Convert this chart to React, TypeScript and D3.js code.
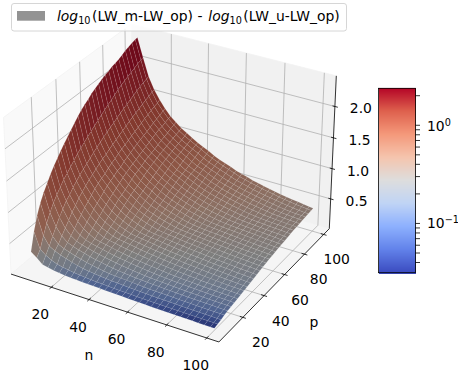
import * as d3 from "d3";

const nValues = [5, 8, 11, 14, 17, 20, 23, 26, 29, 32, 35, 38, 41, 44, 47, 50, 53, 56, 59, 62, 65, 68, 71, 74, 77, 80, 83, 86, 89, 92, 95, 98, 100];
const pValues = nValues;
const gridTicks = [20, 40, 60, 80, 100];
const zTicks = [0.5, 1, 1.5, 2];
const cbarMinor = [2, 0.9, 0.8, 0.7, 0.6, 0.5, 0.4, 0.3, 0.2, 0.09, 0.08, 0.07, 0.06, 0.05, 0.04];
const cbarMajor = [1, 0.1];
const coolwarmStops = ["#3b4cc0", "#6282ea", "#8db0fe", "#c0d4f5", "#dddddd", "#f5c4ad", "#f4987a", "#de604d", "#b40426"];

// z * 1000, one row per p, one column per n. Edges, inside estimated by eye from the colours.
const zRows = [
  [320, 250, 170, 150, 130, 115, 105, 100, 95, 90, 87, 83, 80, 75, 72, 68, 65, 62, 59, 56, 53, 50, 48, 46, 44, 42, 40, 38, 37, 35, 34, 33, 32],
  [600, 340, 270, 215, 180, 160, 145, 130, 120, 110, 102, 96, 92, 86, 82, 78, 74, 72, 68, 66, 63, 61, 59, 57, 55, 53, 51, 50, 49, 48, 47, 46, 45],
  [810, 510, 370, 320, 280, 250, 220, 195, 175, 160, 150, 140, 130, 122, 116, 110, 105, 100, 96, 92, 88, 85, 82, 80, 77, 74, 72, 70, 68, 66, 64, 62, 61],
  [970, 670, 480, 380, 335, 305, 275, 250, 225, 205, 188, 172, 160, 150, 145, 140, 133, 128, 122, 116, 112, 110, 108, 104, 100, 97, 94, 91, 89, 87, 85, 83, 82],
  [1090, 790, 590, 465, 385, 350, 322, 295, 270, 250, 232, 214, 198, 185, 175, 166, 158, 152, 145, 139, 135, 130, 126, 122, 118, 115, 112, 110, 107, 104, 102, 99, 98],
  [1190, 900, 695, 545, 450, 385, 355, 330, 305, 285, 265, 248, 232, 218, 204, 192, 182, 173, 165, 158, 153, 148, 143, 138, 134, 130, 127, 123, 120, 117, 115, 113, 112],
  [1290, 985, 780, 625, 515, 440, 385, 358, 337, 316, 295, 277, 261, 247, 233, 219, 207, 196, 187, 178, 172, 165, 159, 154, 150, 145, 141, 137, 133, 130, 127, 124, 122],
  [1375, 1060, 865, 710, 585, 495, 435, 385, 361, 344, 323, 305, 288, 271, 256, 245, 233, 221, 211, 200, 192, 184, 176, 170, 165, 160, 155, 151, 147, 143, 139, 136, 134],
  [1455, 1135, 915, 770, 650, 555, 480, 430, 385, 363, 347, 329, 312, 296, 281, 268, 256, 245, 233, 223, 214, 204, 196, 189, 182, 175, 170, 165, 160, 156, 152, 148, 146],
  [1530, 1190, 990, 845, 715, 610, 530, 470, 425, 385, 365, 350, 334, 319, 303, 290, 277, 265, 255, 244, 235, 225, 217, 208, 201, 192, 187, 181, 174, 169, 165, 161, 158],
  [1600, 1250, 1045, 900, 765, 670, 580, 515, 465, 420, 385, 367, 352, 338, 324, 310, 297, 285, 273, 263, 253, 244, 235, 226, 218, 210, 201, 195, 189, 183, 177, 172, 170],
  [1665, 1310, 1100, 950, 825, 720, 630, 555, 495, 455, 418, 385, 368, 354, 342, 328, 315, 303, 291, 280, 270, 260, 252, 243, 235, 226, 219, 212, 205, 198, 192, 186, 183],
  [1730, 1370, 1150, 1000, 880, 765, 680, 600, 540, 490, 448, 415, 385, 368, 355, 345, 332, 320, 308, 295, 284, 276, 268, 260, 251, 243, 236, 229, 222, 214, 208, 202, 198],
  [1795, 1415, 1190, 1040, 925, 815, 725, 645, 580, 525, 482, 445, 410, 385, 369, 358, 347, 333, 322, 313, 302, 292, 282, 273, 265, 257, 250, 243, 235, 228, 222, 216, 210],
  [1860, 1465, 1235, 1085, 960, 865, 765, 695, 620, 560, 510, 475, 440, 410, 385, 371, 359, 350, 338, 326, 318, 307, 297, 287, 278, 270, 263, 256, 250, 243, 236, 229, 225],
  [1915, 1510, 1280, 1125, 985, 900, 805, 725, 660, 595, 545, 505, 465, 435, 408, 385, 372, 361, 352, 342, 330, 322, 311, 302, 292, 284, 276, 269, 262, 255, 248, 242, 238],
  [1960, 1555, 1320, 1160, 1035, 930, 845, 760, 700, 635, 575, 530, 495, 460, 435, 410, 385, 373, 362, 352, 345, 333, 324, 315, 306, 297, 289, 281, 274, 268, 261, 255, 250],
  [2000, 1600, 1360, 1190, 1070, 970, 885, 800, 730, 670, 610, 560, 525, 490, 457, 430, 407, 385, 373, 363, 353, 346, 336, 327, 318, 310, 302, 294, 287, 281, 274, 268, 264],
  [2050, 1640, 1400, 1225, 1100, 985, 920, 840, 760, 700, 640, 590, 550, 510, 480, 452, 425, 400, 385, 373, 363, 355, 348, 339, 330, 321, 313, 305, 298, 291, 284, 277, 272],
  [2085, 1685, 1435, 1260, 1135, 1030, 945, 875, 795, 730, 680, 620, 575, 540, 505, 475, 448, 420, 403, 385, 374, 365, 356, 349, 341, 332, 323, 316, 309, 301, 295, 288, 282],
  [2120, 1725, 1470, 1290, 1165, 1060, 975, 900, 830, 760, 705, 650, 605, 565, 530, 497, 470, 445, 423, 403, 385, 374, 366, 357, 351, 343, 335, 327, 319, 312, 305, 298, 294],
  [2150, 1765, 1500, 1325, 1190, 1090, 1000, 925, 865, 790, 730, 685, 635, 590, 555, 520, 490, 465, 442, 420, 403, 385, 375, 366, 358, 351, 344, 337, 329, 322, 316, 308, 304],
  [2180, 1800, 1535, 1355, 1220, 1120, 1030, 955, 890, 820, 760, 705, 660, 615, 575, 545, 515, 485, 460, 440, 420, 402, 385, 376, 367, 359, 352, 346, 340, 331, 324, 317, 313],
  [2200, 1840, 1570, 1385, 1250, 1145, 1055, 980, 915, 850, 785, 735, 690, 640, 600, 565, 535, 505, 480, 456, 437, 418, 400, 385, 376, 368, 360, 353, 345, 340, 333, 326, 321],
  [2230, 1880, 1600, 1415, 1275, 1170, 1080, 1000, 940, 880, 815, 760, 715, 670, 625, 590, 555, 525, 500, 475, 455, 435, 417, 400, 385, 376, 369, 361, 354, 348, 343, 335, 330],
  [2245, 1915, 1630, 1445, 1300, 1190, 1105, 1020, 965, 900, 850, 780, 735, 695, 650, 610, 575, 545, 520, 495, 472, 452, 434, 415, 400, 385, 376, 369, 362, 355, 350, 343, 340],
  [2265, 1945, 1660, 1470, 1330, 1215, 1135, 1045, 985, 925, 870, 810, 755, 720, 675, 635, 600, 565, 540, 515, 490, 468, 448, 430, 415, 400, 385, 376, 369, 362, 355, 351, 347],
  [2295, 1970, 1690, 1495, 1360, 1240, 1160, 1070, 1005, 945, 890, 835, 780, 735, 700, 660, 620, 590, 555, 530, 505, 485, 465, 445, 430, 415, 400, 385, 376, 369, 362, 356, 353],
  [2325, 2000, 1720, 1525, 1380, 1270, 1185, 1090, 1025, 965, 910, 860, 805, 755, 725, 680, 640, 605, 575, 550, 525, 500, 480, 460, 445, 425, 410, 398, 385, 376, 370, 363, 360],
  [2345, 2025, 1750, 1550, 1405, 1290, 1190, 1110, 1045, 985, 930, 885, 830, 780, 740, 700, 665, 625, 595, 565, 540, 515, 495, 475, 460, 440, 425, 410, 395, 385, 376, 371, 367],
  [2365, 2055, 1770, 1575, 1430, 1310, 1215, 1135, 1065, 1000, 950, 900, 855, 800, 755, 720, 685, 650, 615, 585, 560, 535, 510, 490, 470, 455, 440, 425, 410, 395, 385, 376, 373],
  [2385, 2075, 1790, 1600, 1445, 1335, 1235, 1155, 1080, 1020, 970, 920, 875, 825, 780, 740, 700, 670, 635, 600, 575, 550, 530, 505, 485, 470, 450, 435, 420, 405, 395, 385, 380],
  [2390, 2090, 1805, 1615, 1470, 1350, 1245, 1170, 1095, 1040, 985, 930, 885, 845, 790, 750, 715, 685, 645, 615, 590, 560, 540, 515, 497, 480, 460, 445, 430, 420, 405, 392, 385],
];

const FONT = "'DejaVu Sans'";
const LOW = -1.8;
const HIGH = 106;
const Z_HIGH = 2.48;
const BOX = 1.1905;
const BOX_Z = 0.8929;

const xScale = d3.scaleLinear().domain([LOW, HIGH]).range([0, BOX]);
const yScale = d3.scaleLinear().domain([LOW, HIGH]).range([0, BOX]);
const zScale = d3.scaleLinear().domain([0, Z_HIGH]).range([0, BOX_Z]);

const colorNorm = d3.scaleLog().domain([0.0315, 2.38]).range([0, 1]).clamp(true);
const coolwarm = d3
  .scaleLinear<string>()
  .domain(coolwarmStops.map((_, i) => i / (coolwarmStops.length - 1)))
  .range(coolwarmStops)
  .interpolate(d3.interpolateRgb);

const EYE = [4.925, -6.905, 5.446];
const U = [0.866, 0.5, 0];
const V = [-0.25, 0.433, 0.866];
const W = [0.433, -0.75, 0.5];
const dot = (a: number[], b: number[]) => a[0] * b[0] + a[1] * b[1] + a[2] * b[2];

// same view as matplotlib's elev=30, azim=-60
function viewOf(x: number, y: number, z: number) {
  const d = [x - EYE[0], y - EYE[1], z - EYE[2]];
  const depth = -dot(d, W);
  return { sx: dot(d, U) / depth, sy: dot(d, V) / depth, depth };
}
const toPx = d3.scaleLinear().domain([0, 1]).range([173, 2173]);
const toPy = d3.scaleLinear().domain([0, 1]).range([175.4, -1824.6]);

function project(n: number, p: number, z: number): [number, number] {
  const v = viewOf(xScale(n), yScale(p), zScale(z));
  return [toPx(v.sx), toPy(v.sy)];
}
const pathOf = (pts: [number, number][]) => "M" + pts.map((q) => q[0].toFixed(2) + "," + q[1].toFixed(2)).join("L") + "Z";
const seg = (a: [number, number], b: [number, number]) => ({ x1: a[0], y1: a[1], x2: b[0], y2: b[1] });

function buildCells() {
  const light = [-0.667, -0.667, 0.333];
  const cells: { d: string; fill: string; depth: number }[] = [];
  for (let j = 0; j < pValues.length - 1; j++) {
    for (let i = 0; i < nValues.length - 1; i++) {
      const corners = [
        [nValues[i], pValues[j], zRows[j][i] / 1000],
        [nValues[i + 1], pValues[j], zRows[j][i + 1] / 1000],
        [nValues[i + 1], pValues[j + 1], zRows[j + 1][i + 1] / 1000],
        [nValues[i], pValues[j + 1], zRows[j + 1][i] / 1000],
      ];
      const box = corners.map((c) => [xScale(c[0]), yScale(c[1]), zScale(c[2])]);
      const a = [box[2][0] - box[0][0], box[2][1] - box[0][1], box[2][2] - box[0][2]];
      const b = [box[3][0] - box[1][0], box[3][1] - box[1][1], box[3][2] - box[1][2]];
      const nrm = [b[1] * a[2] - b[2] * a[1], b[2] * a[0] - b[0] * a[2], b[0] * a[1] - b[1] * a[0]];
      const len = Math.hypot(nrm[0], nrm[1], nrm[2]);
      // the reference is dark nearly everywhere, so the light only nudges it
      const shade = 0.58 + 0.03 * (dot(nrm, light) / len);
      const zMean = d3.mean(corners, (c) => c[2]) as number;
      const c = d3.rgb(coolwarm(colorNorm(zMean)));
      const fill = d3.rgb(c.r * shade, c.g * shade, c.b * shade).formatHex();
      const depth = d3.mean(box, (q) => viewOf(q[0], q[1], q[2]).depth) as number;
      cells.push({ d: pathOf(corners.map((q) => project(q[0], q[1], q[2]))), fill, depth });
    }
  }
  return cells.sort((s, t) => t.depth - s.depth);
}

const cbarY = d3.scaleLog().domain([0.0315, 2.38]).range([272.7, 88.3]);
const cbarSteps = d3.range(0, 185);

export default function App() {
  const cells = buildCells();
  const pLabelDx = d3.scaleLinear().domain([20, 100]).range([18, 13]);
  const grid = "#b0b0b0";
  return (
    <svg
      width={458}
      height={373}
      style={{ position: "absolute", left: 0, top: 0, background: "#fff" }}
      fontFamily={FONT}
      fontSize={13.9}
      fill="#000"
    >
      <path d={pathOf([project(LOW, LOW, 0), project(LOW, HIGH, 0), project(LOW, HIGH, Z_HIGH), project(LOW, LOW, Z_HIGH)])} fill="#f9f9f9" stroke="#f3f3f3" strokeWidth={0.8} />
      <path d={pathOf([project(LOW, HIGH, 0), project(HIGH, HIGH, 0), project(HIGH, HIGH, Z_HIGH), project(LOW, HIGH, Z_HIGH)])} fill="#f1f1f1" stroke="#f3f3f3" strokeWidth={0.8} />
      <path d={pathOf([project(LOW, LOW, 0), project(HIGH, LOW, 0), project(HIGH, HIGH, 0), project(LOW, HIGH, 0)])} fill="#f5f5f5" stroke="#f3f3f3" strokeWidth={0.8} />

      <g stroke={grid} strokeWidth={0.8} fill="none">
        {gridTicks.map((t) => (
          <g key={t}>
            <line {...seg(project(t, LOW, 0), project(t, HIGH, 0))} />
            <line {...seg(project(t, HIGH, 0), project(t, HIGH, Z_HIGH))} />
            <line {...seg(project(HIGH, t, 0), project(LOW, t, 0))} />
            <line {...seg(project(LOW, t, 0), project(LOW, t, Z_HIGH))} />
          </g>
        ))}
        {zTicks.map((t) => (
          <g key={t}>
            <line {...seg(project(LOW, LOW, t), project(LOW, HIGH, t))} />
            <line {...seg(project(LOW, HIGH, t), project(HIGH, HIGH, t))} />
          </g>
        ))}
      </g>

      <g stroke="#000" strokeWidth={0.8} fill="none">
        <line {...seg(project(LOW, LOW, 0), project(HIGH, LOW, 0))} />
        <line {...seg(project(HIGH, LOW, 0), project(HIGH, HIGH, 0))} />
        <line {...seg(project(HIGH, HIGH, 0), project(HIGH, HIGH, Z_HIGH))} />
        {gridTicks.map((t) => (
          <g key={t}>
            <line {...seg(project(t, LOW - 1.5, 0), project(t, LOW + 1.5, 0))} />
            <line {...seg(project(HIGH - 1.5, t, 0), project(HIGH + 1.5, t, 0))} />
          </g>
        ))}
        {zTicks.map((t) => (
          <line key={t} {...seg(project(HIGH - 1.2, HIGH, t), project(HIGH + 1.5, HIGH, t))} />
        ))}
      </g>

      <g stroke="#fff" strokeOpacity={0.14} strokeWidth={0.5}>
        {cells.map((c, i) => (
          <path key={i} d={c.d} fill={c.fill} />
        ))}
      </g>

      <g textAnchor="middle">
        {gridTicks.map((t) => {
          const a = project(t, LOW, 0);
          const b = project(HIGH, t, 0);
          return (
            <g key={t}>
              <text x={a[0] - 11} y={a[1] + 27} dy="0.36em">{t}</text>
              <text x={b[0] + pLabelDx(t)} y={b[1] + 25} dy="0.36em">{t}</text>
            </g>
          );
        })}
        {zTicks.map((t) => {
          const a = project(HIGH, HIGH, t);
          return (
            <text key={t} x={a[0] + 26} y={a[1] + 2} dy="0.36em">{t.toFixed(1)}</text>
          );
        })}
        <text x={89} y={355} dy="0.36em">n</text>
        <text x={314} y={322} dy="0.36em">p</text>
      </g>

      <g shapeRendering="crispEdges">
        {cbarSteps.map((s) => {
          const y = 88.3 + s;
          return (
            <rect key={s} x={378.5} y={y} width={37} height={1.2} fill={coolwarm(colorNorm(cbarY.invert(y + 0.5)))} />
          );
        })}
      </g>
      <rect x={378.5} y={88.3} width={37} height={184.4} fill="none" stroke="#000" strokeWidth={0.8} />
      <g stroke="#000" strokeWidth={0.8}>
        {cbarMajor.concat(cbarMinor).map((t) => (
          <line key={t} x1={415.5} x2={420} y1={cbarY(t)} y2={cbarY(t)} />
        ))}
      </g>
      <text x={427} y={cbarY(1) + 6}>
        10<tspan dy={-5.5} fontSize={9.7}>0</tspan>
      </text>
      <text x={427} y={cbarY(0.1) + 5}>
        10<tspan dy={-5.5} fontSize={9.7}>−1</tspan>
      </text>

      <rect x={11.5} y={3.5} width={335} height={27.5} rx={2.5} fill="#fff" fillOpacity={0.8} stroke="#cccccc" strokeWidth={0.8} />
      <rect x={17} y={11} width={28} height={9.7} fill="#939393" />
      <text x={57} y={21}>
        <tspan fontStyle="italic">log</tspan>
        <tspan dy={3} fontSize={9.7}>10</tspan>
        <tspan dy={-3} dx={1.5}>(LW_m-LW_op) - </tspan>
        <tspan fontStyle="italic" dx={1.5}>log</tspan>
        <tspan dy={3} fontSize={9.7}>10</tspan>
        <tspan dy={-3} dx={1.5}>(LW_u-LW_op)</tspan>
      </text>
    </svg>
  );
}
